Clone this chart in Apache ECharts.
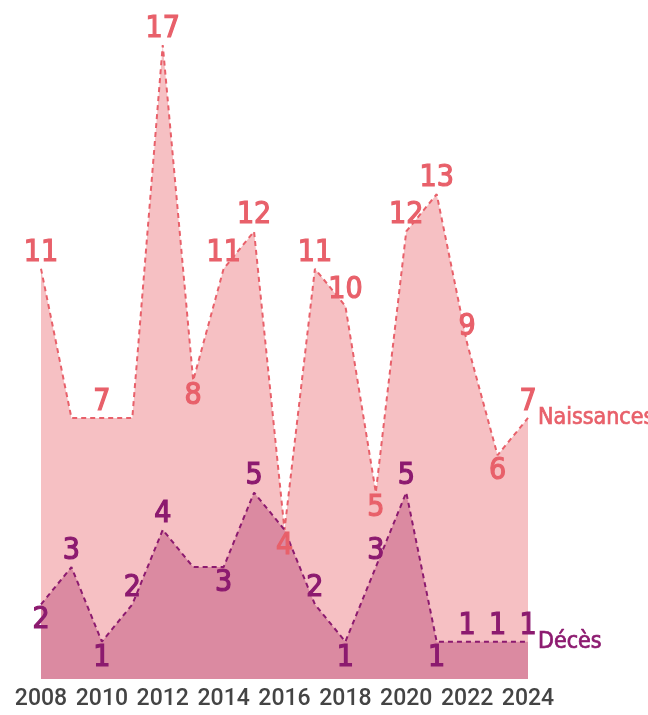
<!DOCTYPE html>
<html>
<head>
<meta charset="utf-8">
<script src="https://cdn.jsdelivr.net/npm/echarts@6/dist/echarts.min.js"></script>
<style>
  html, body { margin: 0; padding: 0; background: #fff; }
  #chart { width: 648px; height: 715px; }
</style>
</head>
<body>
<div id="chart"></div>
<script>
const years = ['2008', '2009', '2010', '2011', '2012', '2013', '2014', '2015', '2016',
  '2017', '2018', '2019', '2020', '2021', '2022', '2023', '2024']
const naissances = [11, 7, 7, 7, 17, 8, 11, 12, 4, 11, 10, 5, 12, 13, 9, 6, 7]
const deces = [2, 3, 1, 2, 4, 3, 3, 5, 4, 2, 1, 3, 5, 1, 1, 1, 1]
// years whose value label is not printed on the original
const naissancesHidden = ['2009', '2011']
const decesHidden = ['2013', '2016']

const labelFont = '"Liberation Sans Narrow", "DejaVu Sans Condensed", sans-serif'
const pink = '#e8606a'
const purple = '#8c1a6f'

// label under the point for local lows, above otherwise
const isLow = (vals, i) => {
  const v = vals[i]
  const prev = vals[i - 1]
  const next = vals[i + 1]
  const lePrev = prev === undefined || v <= prev
  const leNext = next === undefined || v <= next
  const strict = (prev !== undefined && v < prev) || (next !== undefined && v < next)
  return lePrev && leNext && strict
}

const buildData = (vals, hidden) => vals.map((v, i) => ({
  value: v,
  label: {
    show: !hidden.includes(years[i]),
    position: isLow(vals, i) ? 'bottom' : 'top'
  }
}))

// a thin outline in the text colour makes the condensed font a bit heavier
const labelStyle = color => ({
  color: color,
  fontFamily: labelFont,
  fontSize: 30,
  textBorderColor: color,
  textBorderWidth: 1.2,
  distance: 1
})

const endLabelStyle = (name, color) => ({
  show: true,
  formatter: name,
  color: color,
  fontFamily: labelFont,
  fontSize: 23,
  textBorderColor: color,
  textBorderWidth: 0.7,
  distance: 10
})

const chart = echarts.init(document.getElementById('chart'))

chart.setOption({
  animation: false,
  grid: { left: 41, right: 120, top: 45, bottom: 36 },
  xAxis: {
    type: 'category',
    data: years,
    boundaryGap: false,
    axisLine: { show: false },
    axisTick: { show: false },
    axisLabel: {
      interval: 1,
      color: '#444',
      fontFamily: 'Roboto, sans-serif',
      fontWeight: 500,
      fontSize: 23,
      margin: 9
    }
  },
  yAxis: {
    type: 'value',
    min: 0,
    max: 17,
    show: false
  },
  series: [
    {
      name: 'Naissances',
      type: 'line',
      data: naissances,
      z: 2,
      symbol: 'none',
      lineStyle: { color: pink, width: 2, type: [5, 4] },
      areaStyle: { color: '#f6c0c3', opacity: 1 },
      emphasis: { disabled: true }
    },
    {
      name: 'Décès',
      type: 'line',
      data: buildData(deces, decesHidden),
      z: 3,
      symbol: 'circle',
      symbolSize: 0,
      itemStyle: { color: purple },
      lineStyle: { color: purple, width: 2, type: [5, 4] },
      areaStyle: { color: '#db8aa1', opacity: 1 },
      label: labelStyle(purple),
      endLabel: endLabelStyle('Décès', purple),
      emphasis: { disabled: true }
    },
    {
      // labels of the births series, kept above the deaths area
      name: 'Naissances labels',
      type: 'line',
      data: buildData(naissances, naissancesHidden),
      z: 4,
      symbol: 'circle',
      symbolSize: 0,
      itemStyle: { color: pink },
      lineStyle: { opacity: 0 },
      label: labelStyle(pink),
      endLabel: endLabelStyle('Naissances', pink),
      emphasis: { disabled: true }
    }
  ]
})
</script>
</body>
</html>
